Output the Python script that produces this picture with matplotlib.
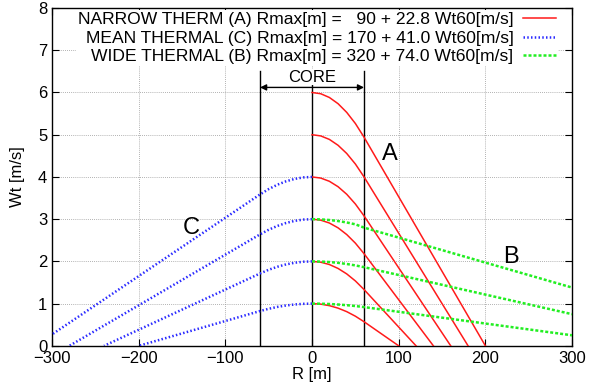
import matplotlib
matplotlib.use("Agg")
import matplotlib.pyplot as plt

plt.rcParams["font.family"] = ["Liberation Sans", "DejaVu Sans"]

# radius points inside the core (m), shared by every curve
R_CORE = [0, 10, 20, 30, 40, 50, 60]

# narrow thermal (A), right side
RED_CORE = [
    [1.0, 0.988, 0.952, 0.893, 0.810, 0.702, 0.571],
    [2.0, 1.981, 1.926, 1.833, 1.704, 1.537, 1.333],
    [3.0, 2.977, 2.909, 2.795, 2.636, 2.432, 2.182],
    [4.0, 3.974, 3.897, 3.769, 3.590, 3.359, 3.077],
    [5.0, 4.972, 4.889, 4.750, 4.556, 4.306, 4.000],
    [6.0, 5.971, 5.882, 5.735, 5.529, 5.265, 4.941],
]
RED_END_R = [100, 120, 140, 160, 180, 200]
RED_END_W = [0, 0, 0, 0, 0, 0]

# mean thermal (C), left side
BLUE_CORE = [
    [1.0, 0.995, 0.980, 0.956, 0.922, 0.878, 0.824],
    [2.0, 1.992, 1.968, 1.929, 1.873, 1.802, 1.714],
    [3.0, 2.990, 2.960, 2.910, 2.840, 2.750, 2.640],
    [4.0, 3.989, 3.954, 3.897, 3.816, 3.713, 3.586],
]
BLUE_END_R = [-200, -240, -280, -300]
BLUE_END_W = [0, 0, 0, 0.27]

# wide thermal (B), right side
GREEN_CORE = [
    [1.0, 0.998, 0.991, 0.979, 0.963, 0.943, 0.918],
    [2.0, 1.996, 1.985, 1.966, 1.939, 1.905, 1.863],
    [3.0, 2.995, 2.980, 2.956, 2.922, 2.878, 2.800],
]
GREEN_END_R = [300, 300, 300]
GREEN_END_W = [0.25, 0.75, 1.38]

LEGEND_LABELS = [
    "NARROW THERM (A) Rmax[m] =   90 + 22.8 Wt60[m/s]",
    "MEAN THERMAL (C) Rmax[m] = 170 + 41.0 Wt60[m/s]",
    "WIDE THERMAL (B) Rmax[m] = 320 + 74.0 Wt60[m/s]",
]

RED = "#ff1a1a"
BLUE = "#2a2aff"
GREEN = "#22ee22"


def draw_family(ax, core, end_r, end_w, sign, label, **style):
    for i, (vals, r_end, w_end) in enumerate(zip(core, end_r, end_w)):
        xs = [sign * r for r in R_CORE] + [r_end]
        ys = list(vals) + [w_end]
        ax.plot(xs, ys, label=label if i == 0 else None, **style)


fig = plt.figure(figsize=(5.91, 3.83), dpi=100)
ax = fig.add_axes([0.088, 0.097, 0.880, 0.882])

draw_family(ax, RED_CORE, RED_END_R, RED_END_W, 1, LEGEND_LABELS[0],
            color=RED, lw=1.1, zorder=3)
draw_family(ax, BLUE_CORE, BLUE_END_R, BLUE_END_W, -1, LEGEND_LABELS[1],
            color=BLUE, lw=1.8, dashes=(0.6, 0.9), zorder=3)
draw_family(ax, GREEN_CORE, GREEN_END_R, GREEN_END_W, 1, LEGEND_LABELS[2],
            color=GREEN, lw=1.8, dashes=(1.2, 0.8), zorder=3)

# core markers
for xc in (-60, 0, 60):
    ax.plot([xc, xc], [0, 6.5], color="black", lw=1.0, zorder=2)
ax.annotate("", xy=(-60, 6.12), xytext=(60, 6.12),
            arrowprops=dict(arrowstyle="<|-|>", color="black", lw=1.0,
                            mutation_scale=9, shrinkA=0, shrinkB=0))
ax.text(0, 6.36, "CORE", ha="center", va="center", fontsize=12,
        bbox=dict(facecolor="white", edgecolor="none", pad=0.5))

ax.text(90, 4.55, "A", fontsize=17, ha="center", va="center")
ax.text(229, 2.1, "B", fontsize=17, ha="center", va="center")
ax.text(-139, 2.8, "C", fontsize=17, ha="center", va="center")

ax.set_xlim(-300, 300)
ax.set_ylim(0, 8)
ax.set_xticks(range(-300, 301, 100))
ax.set_yticks(range(0, 9))
ax.grid(True, color="#999999", linestyle=(0, (1, 1.5)), lw=0.6)
ax.set_axisbelow(True)
ax.tick_params(direction="in", top=True, right=True, length=5,
               labelsize=12, width=0.8)
for sp in ax.spines.values():
    sp.set_linewidth(1.0)

ax.set_xlabel("R [m]", fontsize=12, labelpad=1)
ax.set_ylabel("Wt [m/s]", fontsize=12, labelpad=9)

leg = ax.legend(loc="upper right", bbox_to_anchor=(0.973, 0.993),
                fontsize=12.6, markerfirst=False,
                frameon=True, framealpha=1, edgecolor="none",
                handlelength=1.9, handletextpad=0.55, labelspacing=0.17,
                borderpad=0.1, borderaxespad=0, fancybox=False)
for col in leg._legend_handle_box.get_children():
    col.align = "right"

fig.savefig("out.png", dpi=100)
